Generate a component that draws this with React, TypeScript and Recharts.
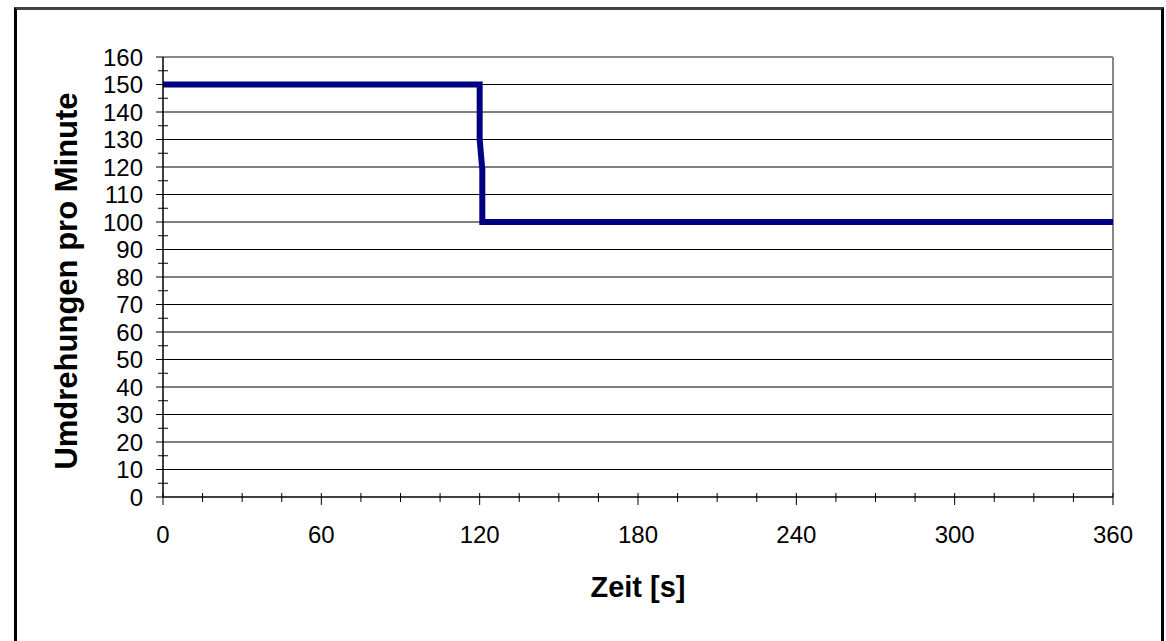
import React from "react";
import { CartesianGrid, Label, Line, LineChart, ReferenceLine, XAxis, YAxis } from "recharts";

// Drehzahl über der Zeit, Sprung bei ca. 120 s
const timeS = [0, 120, 120, 121, 121, 360];
const rpm = [150, 150, 130, 119, 100, 100];

const xTicks = [0, 15, 30, 45, 60, 75, 90, 105, 120, 135, 150, 165, 180, 195, 210, 225, 240, 255, 270, 285, 300, 315, 330, 345, 360];
const xMajor = [0, 60, 120, 180, 240, 300, 360];
const yTicks = [0, 5, 10, 15, 20, 25, 30, 35, 40, 45, 50, 55, 60, 65, 70, 75, 80, 85, 90, 95, 100, 105, 110, 115, 120, 125, 130, 135, 140, 145, 150, 155, 160];
const yMajor = [0, 10, 20, 30, 40, 50, 60, 70, 80, 90, 100, 110, 120, 130, 140, 150, 160];
const yGrid = [10, 20, 30, 40, 50, 60, 70, 80, 90, 100, 110, 120, 130, 140, 150];

const data = timeS.map((t, i) => ({ t, rpm: rpm[i] }));

const FONT = '"Liberation Sans", Arial, sans-serif';

function YTick({ x, y, payload }: any) {
  const major = yMajor.includes(payload.value);
  return (
    <g>
      <line x1={major ? x - 7 : x - 5} x2={major ? x : x + 5} y1={y} y2={y} stroke="#000" strokeWidth={1} />
      {major ? (
        <text x={x - 20} y={y} dy="0.36em" textAnchor="end" fontSize={24} fontFamily={FONT} fill="#000">
          {payload.value}
        </text>
      ) : null}
    </g>
  );
}

function XTick({ x, y, payload }: any) {
  const major = xMajor.includes(payload.value);
  return (
    <g>
      <line x1={x} x2={x} y1={y - 4} y2={major ? y + 8 : y + 5} stroke="#000" strokeWidth={1} />
      {major ? (
        <text x={x} y={y + 46} textAnchor="middle" fontSize={24} fontFamily={FONT} fill="#000">
          {payload.value}
        </text>
      ) : null}
    </g>
  );
}

export default function App() {
  return (
    <div style={{ position: "fixed", left: 0, top: 0, width: 1166, height: 641, background: "#fff", overflow: "hidden" }}>
      <div
        style={{
          position: "absolute",
          left: 14,
          top: 7,
          width: 1144,
          height: 700,
          boxSizing: "content-box",
          borderTop: "3px solid #444",
          borderLeft: "3px solid #000",
          borderRight: "3px solid #000",
        }}
      />
      <div style={{ position: "absolute", left: 0, top: 0 }}>
        <LineChart width={1166} height={641} data={data} margin={{ top: 57, right: 53, left: 103, bottom: 84 }}>
          <CartesianGrid vertical={false} horizontalValues={yGrid} stroke="#000" strokeWidth={1} />
          <ReferenceLine y={160} stroke="#888" strokeWidth={2} />
          <ReferenceLine x={360} stroke="#888" strokeWidth={2} />
          <XAxis
            dataKey="t"
            type="number"
            domain={[0, 360]}
            ticks={xTicks}
            interval={0}
            height={60}
            tickSize={0}
            tickMargin={0}
            tick={<XTick />}
            axisLine={{ stroke: "#000", strokeWidth: 1.5 }}
            tickLine={false}
          >
            <Label
              content={({ viewBox }: any) => (
                <text
                  x={viewBox.x + viewBox.width / 2}
                  y={viewBox.y + 100}
                  textAnchor="middle"
                  fontSize={29}
                  fontWeight="bold"
                  fontFamily={FONT}
                  fill="#000"
                >
                  Zeit [s]
                </text>
              )}
            />
          </XAxis>
          <YAxis
            type="number"
            domain={[0, 160]}
            ticks={yTicks}
            interval={0}
            width={60}
            tickSize={0}
            tickMargin={0}
            tick={<YTick />}
            axisLine={{ stroke: "#000", strokeWidth: 1.5 }}
            tickLine={false}
          >
            <Label
              content={({ viewBox }: any) => {
                const cx = 77;
                const cy = viewBox.y + viewBox.height / 2 + 4;
                return (
                  <text
                    x={cx}
                    y={cy}
                    transform={`rotate(-90, ${cx}, ${cy})`}
                    textAnchor="middle"
                    fontSize={31}
                    fontWeight="bold"
                    fontFamily={FONT}
                    fill="#000"
                  >
                    Umdrehungen pro Minute
                  </text>
                );
              }}
            />
          </YAxis>
          <Line
            type="linear"
            dataKey="rpm"
            stroke="#000080"
            strokeWidth={6}
            dot={false}
            isAnimationActive={false}
          />
        </LineChart>
      </div>
    </div>
  );
}
